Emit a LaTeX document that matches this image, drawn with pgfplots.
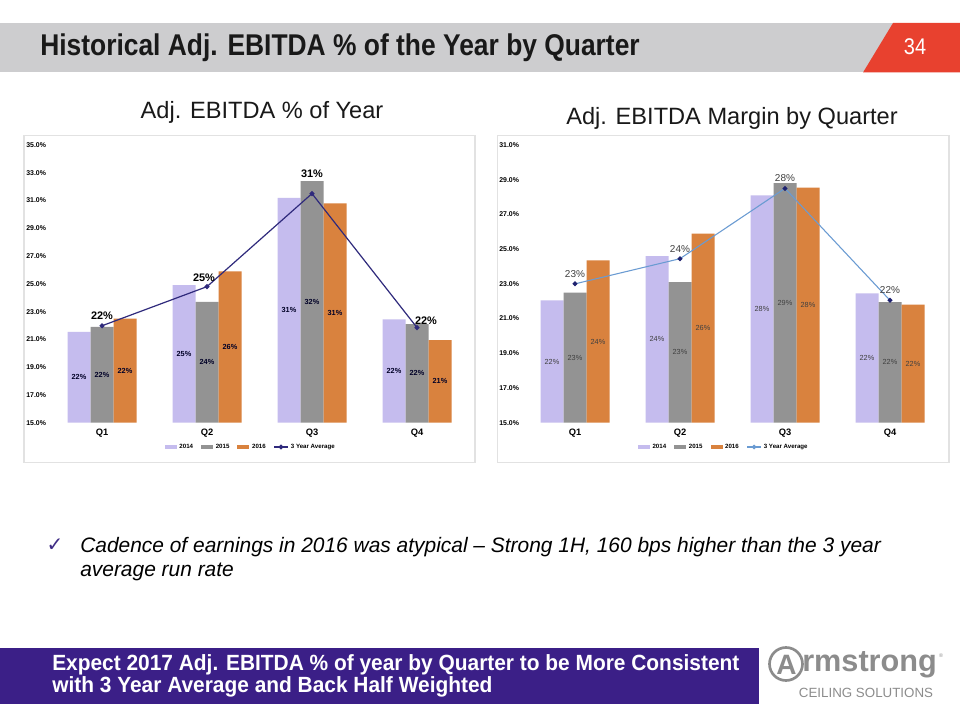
\documentclass[border=0pt]{standalone}
\usepackage{fontspec}
\setmainfont{Liberation Sans}
\newfontfamily\narrowfont[FakeStretch=0.88]{Liberation Sans}
\newfontfamily\bandfont[FakeStretch=0.95]{Liberation Sans}
\newfontfamily\symfont{DejaVu Sans}
\usepackage{pgfplots}
\usepackage{pgfplotstable}
\pgfplotsset{compat=1.18}

\definecolor{c14}{HTML}{C5BCEE}
\definecolor{c15}{HTML}{939393}
\definecolor{c16}{HTML}{D9823E}
\definecolor{lineL}{HTML}{2F2A7C}
\definecolor{lineR}{HTML}{6A9BD2}
\definecolor{markR}{HTML}{1F2270}
\definecolor{hdrgray}{HTML}{CDCDCF}
\definecolor{hdrred}{HTML}{E8412F}
\definecolor{band}{HTML}{3B1F87}
\definecolor{chk}{HTML}{3F2C85}
\definecolor{logogray}{HTML}{8C8C8C}
\definecolor{panelborder}{HTML}{E2E2E2}
\definecolor{lblR}{HTML}{404040}

% Left chart: Adj. EBITDA % of Year
\pgfplotstableread{
x  v14   l14 v15  l15 v16   l16 avg   lavg dx  dy
0  21.55 22  21.9 22  22.5  22  21.98 22   0   10.4
1  24.9  25  23.7 24  25.9  26  24.8  25   -3  9
2  31.2  31  32.4 32  30.8  31  31.5  31   0   20
3  22.45 22  22.1 22  20.95 21  21.85 22   9   7
}\leftdata

% Right chart: Adj. EBITDA Margin by Quarter
\pgfplotstableread{
x  v14   l14 v15   l15 v16   l16 avg   lavg dx dy
0  22.05 22  22.5  23  24.35 24  23.0  23   0  10
1  24.6  24  23.1  23  25.9  26  24.45 24   0  10
2  28.1  28  28.8  29  28.55 28  28.5  28   0  10
3  22.45 22  21.95 22  21.8  22  22.05 22   0  10
}\rightdata

\pgfplotsset{
  panel/.style={
    anchor=south west, scale only axis, width=315pt, height=208.275pt,
    xmin=-0.5, xmax=3.5, clip=false,
    axis line style={draw=none}, tick style={draw=none},
    major tick length=0pt,
    xtick={0,1,2,3}, xticklabels={Q1,Q2,Q3,Q4},
    /pgf/number format/assume math mode=true,
    yticklabel={\pgfmathprintnumber[fixed,fixed zerofill,precision=1]{\tick}\%},
    yticklabel style={anchor=west, xshift=-17.6pt, inner sep=0pt,
      font=\fontsize{5.2}{6}\selectfont\bfseries},
    xticklabel style={anchor=center, yshift=-7.7pt, inner sep=0pt,
      font=\fontsize{7}{8}\selectfont\bfseries},
    legend columns=4,
    legend style={draw=none, fill=none, anchor=center,
      font=\fontsize{4.6}{5}\selectfont\bfseries,
      /tikz/every even column/.append style={column sep=4pt}},
  },
  barlegend/.style={legend image code/.code={
      \fill[##1] (0pt,-1.4pt) rectangle (9pt,1.4pt);}},
  linelegend/.style={legend image code/.code={
      \draw[##1] (0pt,0pt) -- (10pt,0pt);
      \fill[##1] (5pt,0pt) circle (1.3pt);}},
}

\begin{document}
\begin{tikzpicture}
\begin{scope}[x=0.75pt,y=-0.75pt]
  \fill[white] (0,0) rectangle (960,720);
  \useasboundingbox (0,0) rectangle (960,720);
  % header
  \fill[hdrgray] (0,23) rectangle (960,72.5);
  \fill[hdrred] (893,23) -- (960,23) -- (960,72.5) -- (863,72.5) -- cycle;
  \node[anchor=center, text=white, inner sep=0pt, font=\narrowfont\fontsize{17}{18}\selectfont] at (915,47) {34};
  \node[anchor=west, inner sep=0pt, font=\narrowfont\fontsize{22.5}{24}\selectfont\bfseries, text=black!90] at (40,47.5) {Historical Adj. EBITDA \% of the Year by Quarter};
  % panel titles
  \node[anchor=center, inner sep=0pt, font=\fontsize{17.7}{19}\selectfont, text=black!90] at (262,112) {Adj. EBITDA \% of Year};
  \node[anchor=center, inner sep=0pt, font=\fontsize{17.7}{19}\selectfont, text=black!90] at (732,118) {Adj. EBITDA Margin by Quarter};
  % panel borders
  \draw[panelborder, line width=0.8pt] (24,135.5) rectangle (475,462.5);
  \draw[panelborder, line width=0.8pt] (497.5,135.5) rectangle (949,462.5);
  \coordinate (LA) at (49.5,422.7);
  \coordinate (RA) at (522.5,422.7);
  % bullet
  \node[anchor=center, inner sep=0pt, text=chk, font=\symfont\fontsize{15}{16}\selectfont] at (55,545) {✓};
  \node[anchor=west, inner sep=0pt, font=\fontsize{15.7}{17}\selectfont\itshape] at (80,547) {Cadence of earnings in 2016 was atypical – Strong 1H, 160 bps higher than the 3 year};
  \node[anchor=west, inner sep=0pt, font=\fontsize{15.7}{17}\selectfont\itshape] at (80,572) {average run rate};
  % bottom band
  \fill[band] (0,648) rectangle (759,704);
  \node[anchor=west, inner sep=0pt, text=white, font=\bandfont\fontsize{16.5}{17}\selectfont\bfseries] at (52,664.5) {Expect 2017 Adj. EBITDA \% of year by Quarter to be More Consistent};
  \node[anchor=west, inner sep=0pt, text=white, font=\bandfont\fontsize{16.5}{17}\selectfont\bfseries] at (52,686.5) {with 3 Year Average and Back Half Weighted};
  % logo
  \draw[logogray, line width=2pt] (786,664) circle (16.5);
  \node[anchor=center, inner sep=0pt, text=logogray, font=\fontsize{21}{22}\selectfont\bfseries] at (786.5,664.5) {A};
  \node[anchor=west, inner sep=0pt, text=logogray, font=\fontsize{23}{24}\selectfont\bfseries] at (802,665) {rmstrong};
  \node[anchor=center, inner sep=0pt, text=logogray, font=\fontsize{4}{4}\selectfont] at (941,656) {®};
  \node[anchor=center, inner sep=0pt, text=logogray, font=\fontsize{10}{12}\selectfont] at (866,693) {CEILING SOLUTIONS};
\end{scope}

% ---------------- Left chart ----------------
\begin{axis}[panel, at={(LA)}, ymin=15, ymax=35, ytick={15,17,...,35},
  legend style={at={(0.48,-0.0875)}}]
  \addplot[ybar, bar width=17.25pt, bar shift=-17.25pt, fill=c14, draw=none, barlegend,
    point meta=explicit symbolic,
    visualization depends on={\thisrow{v14} \as \vv},
    nodes near coords={\pgfplotspointmeta\%},
    every node near coord/.append style={anchor=center, text=black!85!blue, inner sep=0pt,
      font=\fontsize{5.5}{6}\selectfont\bfseries, xshift=-17.25pt, yshift={-(\vv-15)*5.207pt}}]
    table[x=x, y=v14, meta=l14] {\leftdata};
  \addlegendentry{2014}
  \addplot[ybar, bar width=17.25pt, bar shift=0pt, fill=c15, draw=none, barlegend,
    point meta=explicit symbolic,
    visualization depends on={\thisrow{v15} \as \vv},
    nodes near coords={\pgfplotspointmeta\%},
    every node near coord/.append style={anchor=center, text=black!85!blue, inner sep=0pt,
      font=\fontsize{5.5}{6}\selectfont\bfseries, yshift={-(\vv-15)*5.207pt}}]
    table[x=x, y=v15, meta=l15] {\leftdata};
  \addlegendentry{2015}
  \addplot[ybar, bar width=17.25pt, bar shift=17.25pt, fill=c16, draw=none, barlegend,
    point meta=explicit symbolic,
    visualization depends on={\thisrow{v16} \as \vv},
    nodes near coords={\pgfplotspointmeta\%},
    every node near coord/.append style={anchor=center, text=black!85!blue, inner sep=0pt,
      font=\fontsize{5.5}{6}\selectfont\bfseries, xshift=17.25pt, yshift={-(\vv-15)*5.207pt}}]
    table[x=x, y=v16, meta=l16] {\leftdata};
  \addlegendentry{2016}
  \addplot[sharp plot, color=lineL, line width=0.9pt, mark=*, mark size=1.4pt,
    mark options={fill=lineL, draw=lineL}, linelegend,
    point meta=explicit symbolic,
    visualization depends on={\thisrow{dx} \as \ddx},
    visualization depends on={\thisrow{dy} \as \ddy},
    nodes near coords={\pgfplotspointmeta\%},
    every node near coord/.append style={anchor=center, text=black, inner sep=0pt,
      font=\fontsize{8.2}{9}\selectfont\bfseries, xshift={\ddx*0.75pt}, yshift={\ddy*0.75pt}}]
    table[x=x, y=avg, meta=lavg] {\leftdata};
  \addlegendentry{3 Year Average}
\end{axis}

% ---------------- Right chart ----------------
\begin{axis}[panel, at={(RA)}, ymin=15, ymax=31, ytick={15,17,...,31},
  legend style={at={(0.48,-0.0875)}}]
  \addplot[ybar, bar width=17.25pt, bar shift=-17.25pt, fill=c14, draw=none, barlegend,
    point meta=explicit symbolic,
    visualization depends on={\thisrow{v14} \as \vv},
    nodes near coords={\pgfplotspointmeta\%},
    every node near coord/.append style={anchor=center, text=lblR, inner sep=0pt,
      font=\fontsize{5.5}{6}\selectfont, xshift=-17.25pt, yshift={-(\vv-15)*6.509pt}}]
    table[x=x, y=v14, meta=l14] {\rightdata};
  \addlegendentry{2014}
  \addplot[ybar, bar width=17.25pt, bar shift=0pt, fill=c15, draw=none, barlegend,
    point meta=explicit symbolic,
    visualization depends on={\thisrow{v15} \as \vv},
    nodes near coords={\pgfplotspointmeta\%},
    every node near coord/.append style={anchor=center, text=lblR, inner sep=0pt,
      font=\fontsize{5.5}{6}\selectfont, yshift={-(\vv-15)*6.509pt}}]
    table[x=x, y=v15, meta=l15] {\rightdata};
  \addlegendentry{2015}
  \addplot[ybar, bar width=17.25pt, bar shift=17.25pt, fill=c16, draw=none, barlegend,
    point meta=explicit symbolic,
    visualization depends on={\thisrow{v16} \as \vv},
    nodes near coords={\pgfplotspointmeta\%},
    every node near coord/.append style={anchor=center, text=lblR, inner sep=0pt,
      font=\fontsize{5.5}{6}\selectfont, xshift=17.25pt, yshift={-(\vv-15)*6.509pt}}]
    table[x=x, y=v16, meta=l16] {\rightdata};
  \addlegendentry{2016}
  \addplot[sharp plot, color=lineR, line width=0.8pt, mark=*, mark size=1.4pt,
    mark options={fill=markR, draw=markR}, linelegend,
    point meta=explicit symbolic,
    visualization depends on={\thisrow{dx} \as \ddx},
    visualization depends on={\thisrow{dy} \as \ddy},
    nodes near coords={\pgfplotspointmeta\%},
    every node near coord/.append style={anchor=center, text=lblR, inner sep=0pt,
      font=\fontsize{7.5}{8}\selectfont, xshift={\ddx*0.75pt}, yshift={\ddy*0.75pt}}]
    table[x=x, y=avg, meta=lavg] {\rightdata};
  \addlegendentry{3 Year Average}
\end{axis}
\end{tikzpicture}
\end{document}
